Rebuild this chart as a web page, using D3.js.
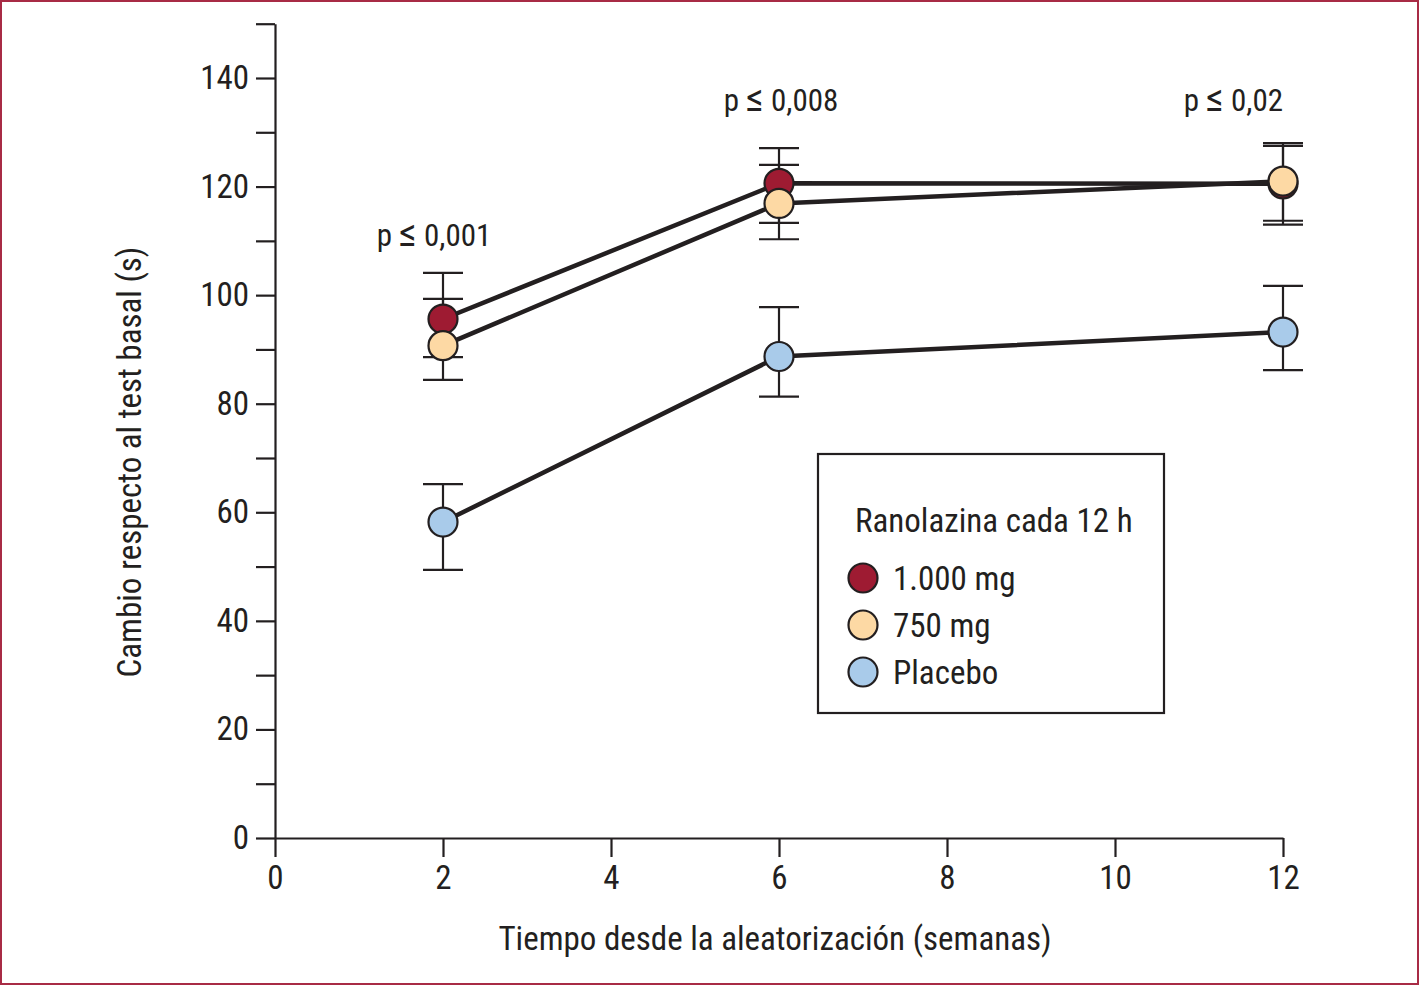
<!DOCTYPE html>
<html>
<head>
<meta charset="utf-8">
<script src="https://cdn.jsdelivr.net/npm/d3@7"></script>
<style>
  body { margin: 0; background: #fff; }
  svg text { font-family: "Liberation Sans Narrow", "Roboto Condensed", "DejaVu Sans Condensed", sans-serif; fill: #231f20; }
</style>
</head>
<body>
<svg id="chart" width="1420" height="987"></svg>
<script>
// weeks since randomisation
const weeks = [2, 6, 12];

// change vs baseline test (s), with error bar ends
const mean1000 = [95.6, 120.6, 120.5];
const low1000 = [88.6, 113.3, 113.0];
const high1000 = [104.1, 127.1, 127.5];

const mean750 = [90.7, 116.9, 121.0];
const low750 = [84.4, 110.3, 113.7];
const high750 = [99.3, 124.0, 128.0];

const meanPlacebo = [58.2, 88.7, 93.2];
const lowPlacebo = [49.4, 81.3, 86.2];
const highPlacebo = [65.2, 97.8, 101.7];

const seriesNames = ["1.000 mg", "750 mg", "Placebo"];
const seriesColors = ["#9e1b32", "#fdd9a4", "#a9cbea"];

const xTicks = [0, 2, 4, 6, 8, 10, 12];
const yTicks = d3.range(0, 151, 10);

// p-value annotations
const pWeeks = [2, 6, 12];
const pLevels = [109, 134, 134];
const pValues = ["0,001", "0,008", "0,02"];

const ink = "#231f20";
const svg = d3.select("#chart");

// outer frame
svg.append("rect")
    .attr("x", 1).attr("y", 1)
    .attr("width", 1417).attr("height", 983)
    .attr("fill", "none")
    .attr("stroke", "#a82b45")
    .attr("stroke-width", 2);

const x = d3.scaleLinear().domain([0, 12]).range([275, 1283]);
const y = d3.scaleLinear().domain([0, 150]).range([838, 838 - 150 * 760 / 140]);

// y axis
const yAxis = svg.append("g")
    .attr("transform", `translate(${x(0)},0)`)
    .call(d3.axisLeft(y)
        .tickValues(yTicks)
        .tickSize(19)
        .tickSizeOuter(0)
        .tickPadding(7)
        .tickFormat(d => d % 20 === 0 && d < 150 ? d : ""));

// x axis
const xAxis = svg.append("g")
    .attr("transform", `translate(0,${y(0)})`)
    .call(d3.axisBottom(x)
        .tickValues(xTicks)
        .tickSize(19)
        .tickSizeOuter(0)
        .tickPadding(9));

[yAxis, xAxis].forEach(g => {
    g.select(".domain").attr("stroke", ink).attr("stroke-width", 2.2);
    g.selectAll(".tick line").attr("stroke", ink).attr("stroke-width", 2.2);
    g.selectAll(".tick text").attr("font-size", 33).attr("fill", ink)
        .style("font-family", null);
});

// axis titles
svg.append("text")
    .attr("x", 775).attr("y", 950)
    .attr("text-anchor", "middle")
    .attr("font-size", 33)
    .text("Tiempo desde la aleatorización (semanas)");

svg.append("text")
    .attr("transform", "translate(141,462) rotate(-90)")
    .attr("text-anchor", "middle")
    .attr("font-size", 33)
    .text("Cambio respecto al test basal (s)");

// build series
const series = [
    { mean: mean1000, low: low1000, high: high1000 },
    { mean: mean750, low: low750, high: high750 },
    { mean: meanPlacebo, low: lowPlacebo, high: highPlacebo }
].map((s, k) => ({
    name: seriesNames[k],
    color: seriesColors[k],
    points: weeks.map((w, i) => ({ week: w, mean: s.mean[i], low: s.low[i], high: s.high[i] }))
}));

// draw order: placebo first, then 1000, then 750 on top
const order = [series[2], series[0], series[1]];

// error bars
const capHalf = 20;
order.forEach(s => {
    const g = svg.append("g").attr("stroke", ink).attr("stroke-width", 2.2);
    s.points.forEach(p => {
        g.append("line")
            .attr("x1", x(p.week)).attr("x2", x(p.week))
            .attr("y1", y(p.high)).attr("y2", y(p.low));
        [p.high, p.low].forEach(v => {
            g.append("line")
                .attr("x1", x(p.week) - capHalf).attr("x2", x(p.week) + capHalf)
                .attr("y1", y(v)).attr("y2", y(v));
        });
    });
});

// connecting lines
const line = d3.line().x(d => x(d.week)).y(d => y(d.mean));
order.forEach(s => {
    svg.append("path")
        .datum(s.points)
        .attr("d", line)
        .attr("fill", "none")
        .attr("stroke", ink)
        .attr("stroke-width", 4.5);
});

// markers
order.forEach(s => {
    svg.append("g").selectAll("circle")
        .data(s.points)
        .enter()
        .append("circle")
        .attr("cx", d => x(d.week))
        .attr("cy", d => y(d.mean))
        .attr("r", 14.5)
        .attr("fill", s.color)
        .attr("stroke", ink)
        .attr("stroke-width", 2.2);
});

// p-value labels (the ≤ sign is drawn a bit bigger, as in the print)
const pLabels = svg.selectAll(".pval")
    .data(pValues)
    .enter()
    .append("text")
    .attr("class", "pval")
    .attr("x", (d, i) => i === 2 ? x(pWeeks[i]) : x(pWeeks[i]) + (i === 0 ? -9 : 2))
    .attr("y", (d, i) => y(pLevels[i]))
    .attr("text-anchor", (d, i) => i === 2 ? "end" : "middle")
    .attr("font-size", 31);
pLabels.append("tspan").text("p ");
pLabels.append("tspan").attr("font-size", 40).text("\u2264");
pLabels.append("tspan").text(d => " " + d);

// legend
const legend = svg.append("g").attr("transform", "translate(818,454)");
legend.append("rect")
    .attr("width", 346).attr("height", 259)
    .attr("fill", "#fff")
    .attr("stroke", ink)
    .attr("stroke-width", 2.2);
legend.append("text")
    .attr("x", 37).attr("y", 78)
    .attr("font-size", 33)
    .text("Ranolazina cada 12 h");

const items = legend.selectAll(".item")
    .data(series)
    .enter()
    .append("g")
    .attr("class", "item")
    .attr("transform", (d, i) => `translate(45,${124 + i * 47})`);
items.append("circle")
    .attr("r", 14.5)
    .attr("fill", d => d.color)
    .attr("stroke", ink)
    .attr("stroke-width", 2.2);
items.append("text")
    .attr("x", 30).attr("y", 12)
    .attr("font-size", 33)
    .text(d => d.name);
</script>
</body>
</html>
